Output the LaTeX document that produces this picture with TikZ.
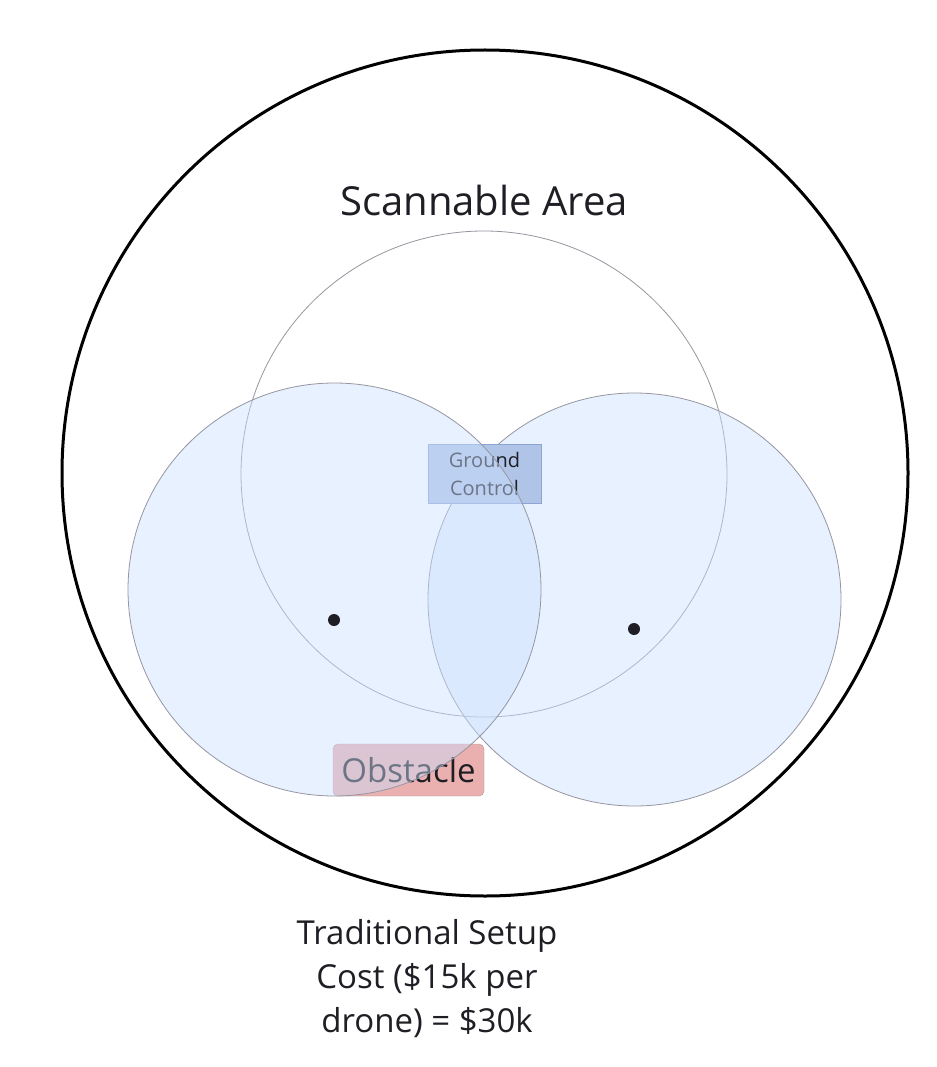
\documentclass[tikz,border=0pt]{standalone}
\usepackage{fontspec}
\setmainfont{Open Sans}
\definecolor{zoneblue}{RGB}{204, 224, 255}
\definecolor{zoneline}{RGB}{150, 150, 160}
\definecolor{gcblue}{RGB}{176, 196, 232}
\definecolor{gcline}{RGB}{140, 165, 210}
\definecolor{obsred}{RGB}{234, 176, 176}
\definecolor{obsline}{RGB}{170, 150, 150}
\definecolor{inkgray}{RGB}{30, 30, 36}
\usetikzlibrary{positioning}

\begin{document}
\begin{tikzpicture}[x=1pt, y=-1pt,
  areacircle/.style={circle, draw=black, line width=3pt, minimum size=846pt, inner sep=0pt},
  rangecircle/.style={circle, draw=zoneline, line width=0.8pt, inner sep=0pt},
  dronezone/.style={rangecircle, fill=zoneblue, fill opacity=0.45, minimum size=413pt},
  labelbox/.style={draw, inner sep=0pt, align=center, text=inkgray},
  dronedot/.style={circle, fill=inkgray, minimum size=12pt, inner sep=0pt}
]
  \useasboundingbox[fill=white] (0,0) rectangle (936,1067);

  \node[areacircle] (area) at (485, 473) {};
  \node[font=\fontsize{40}{48}\selectfont, text=inkgray] (areatitle) at (484, 201) {Scannable Area};

  % ground control range
  \node[rangecircle, fill=white, minimum size=486pt] (gcrange) at (484, 474) {};

  \node[dronezone] (rightzone) at (634.5, 599.5) {};

  \node[labelbox, draw=gcline, fill=gcblue, minimum width=113pt, minimum height=59pt,
        font=\fontsize{20}{28}\selectfont] (ground) at (484.5, 473.5) {Ground\\Control};
  \node[labelbox, draw=obsline, fill=obsred, rounded corners=5pt, minimum width=151pt,
        minimum height=52pt, font=\fontsize{33}{38}\selectfont] (obstacle) at (408.5, 770) {Obstacle};

  \node[dronezone] (leftzone) at (334.5, 589.5) {};

  \node[dronedot] (leftdrone) at (334, 620) {};
  \node[dronedot] (rightdrone) at (634, 629) {};

  \node[font=\fontsize{33}{44}\selectfont, text=inkgray, align=center] (cost) at (427, 979)
    {Traditional Setup\\Cost (\$15k per\\drone) = \$30k};
\end{tikzpicture}
\end{document}
